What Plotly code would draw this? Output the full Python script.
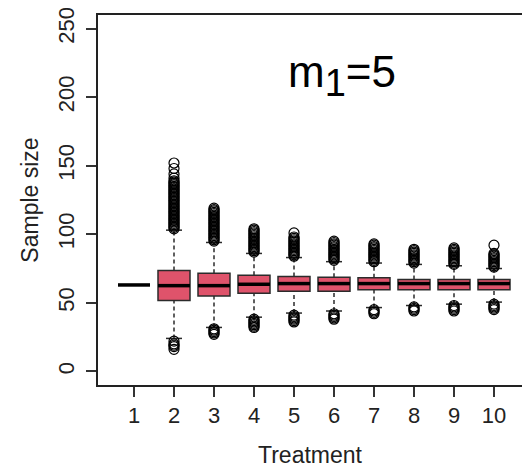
import plotly.graph_objects as go

# ---- data ----
treatments = [1, 2, 3, 4, 5, 6, 7, 8, 9, 10]
tick_labels = ["1", "2", "3", "4", "5", "6", "7", "8", "9", "10"]
q1 = [63, 51.7, 55, 57, 58.5, 58.5, 59.5, 59.5, 59.5, 59.5]
median = [63, 62.5, 62.5, 63.5, 64, 64, 64, 64, 64, 64]
q3 = [63, 73.6, 71.6, 70, 69.2, 68.7, 68.3, 67, 67, 67]
whisker_low = [63, 24, 32, 39.5, 42.5, 44, 46.5, 48, 49, 50.5]
whisker_high = [63, 103, 94, 86, 83, 80, 79, 78, 77, 75]

outliers_high = [
    [],
    [104, 105, 106, 107, 108, 109, 110, 111, 112, 113, 114, 115, 116, 117, 118, 119, 120,
     121, 122, 123, 124, 125, 126, 127, 128, 129, 130, 131, 132, 133, 134, 135, 136, 137,
     138, 139, 141, 144, 148, 152],
    [95, 96, 97, 98, 99, 100, 101, 102, 103, 104, 105, 106, 107, 108, 109, 110, 111, 112,
     113, 114, 115, 116, 117, 118, 119],
    [87, 88, 89, 90, 91, 92, 93, 94, 95, 96, 97, 98, 99, 100, 101, 102, 103, 104],
    [84, 85, 86, 87, 88, 89, 90, 91, 92, 93, 94, 95, 96, 97, 98, 101],
    [81, 82, 83, 84, 85, 86, 87, 88, 89, 90, 91, 92, 93, 94, 95],
    [80, 81, 82, 83, 84, 85, 86, 87, 88, 89, 90, 91, 92, 93],
    [79, 80, 81, 82, 83, 84, 85, 86, 87, 88, 89],
    [78, 79, 80, 81, 82, 83, 84, 85, 86, 87, 88, 89, 90],
    [76, 77, 78, 79, 80, 81, 82, 83, 84, 85, 86, 92],
]
outliers_low = [
    [],
    [16, 18, 19, 20, 22],
    [27, 28, 29, 30, 31],
    [32, 33, 34, 35, 36, 37, 38],
    [36, 37, 38, 39, 40, 41],
    [38, 39, 40, 41, 42],
    [42, 43, 44, 45],
    [44, 45, 46, 47],
    [44, 45, 46, 47, 48],
    [45, 46, 47, 48, 49],
]

BOX_W = 0.8
STAPLE_W = 0.4
FILL = "#DF536B"
EDGE = "#2b2b2b"
FONT = "Liberation Sans, Arial, Helvetica, sans-serif"

fig = go.Figure()

# whiskers (dashed) from box edges to whisker ends
wx, wy = [], []
for t, lo, a, b, hi in zip(treatments, whisker_low, q1, q3, whisker_high):
    if hi > b:
        wx += [t, t, None]
        wy += [b, hi, None]
    if lo < a:
        wx += [t, t, None]
        wy += [lo, a, None]
fig.add_trace(go.Scatter(x=wx, y=wy, mode="lines",
                         line=dict(color=EDGE, width=1.5, dash="4px,3px"),
                         hoverinfo="skip", showlegend=False))

# staples
sx, sy = [], []
for t, lo, hi in zip(treatments, whisker_low, whisker_high):
    if lo == hi:
        continue
    for v in (lo, hi):
        sx += [t - STAPLE_W / 2, t + STAPLE_W / 2, None]
        sy += [v, v, None]
fig.add_trace(go.Scatter(x=sx, y=sy, mode="lines",
                         line=dict(color=EDGE, width=1.5),
                         hoverinfo="skip", showlegend=False))

# boxes
box_idx = [i for i in range(len(treatments)) if q3[i] > q1[i]]
fig.add_trace(go.Box(
    x=[treatments[i] for i in box_idx],
    q1=[q1[i] for i in box_idx],
    median=[median[i] for i in box_idx],
    q3=[q3[i] for i in box_idx],
    lowerfence=[q1[i] for i in box_idx],
    upperfence=[q3[i] for i in box_idx],
    width=BOX_W,
    fillcolor=FILL,
    line=dict(color=EDGE, width=1.5),
    boxpoints=False,
    hoverinfo="skip",
    showlegend=False,
))

# thick median lines
mx, my = [], []
for t, m in zip(treatments, median):
    mx += [t - BOX_W / 2, t + BOX_W / 2, None]
    my += [m, m, None]
fig.add_trace(go.Scatter(x=mx, y=my, mode="lines",
                         line=dict(color="black", width=3.5),
                         hoverinfo="skip", showlegend=False))

# outliers
ox, oy = [], []
for t, hi_list, lo_list in zip(treatments, outliers_high, outliers_low):
    for v in hi_list + lo_list:
        ox.append(t)
        oy.append(v)
fig.add_trace(go.Scatter(x=ox, y=oy, mode="markers",
                         marker=dict(symbol="circle-open", size=10, color="black",
                                     line=dict(width=1.2, color="black")),
                         hoverinfo="skip", showlegend=False))

fig.add_annotation(x=6.2, y=216, xref="x", yref="y",
                   text='m<sub><span style="font-size:38px">1</span></sub>=5',
                   showarrow=False, font=dict(family=FONT, size=44, color="black"))

fig.update_layout(
    width=522, height=468,
    margin=dict(l=98, r=0, t=15, b=83),
    paper_bgcolor="white", plot_bgcolor="white",
    font=dict(family=FONT, size=22, color="#222"),
    showlegend=False,
    xaxis=dict(range=[0.1, 10.7], tickmode="array", tickvals=treatments,
               ticktext=tick_labels, ticks="outside", ticklen=10, tickwidth=1.5,
               tickcolor="#333", showline=True, linecolor="#222", linewidth=1.5,
               mirror=True, showgrid=False, zeroline=False,
               tickfont=dict(family=FONT, size=22, color="#222"),
               title=dict(text="Treatment", standoff=23,
                          font=dict(family=FONT, size=23, color="#222"))),
    yaxis=dict(range=[-10, 260], tickmode="array", tickvals=[0, 50, 100, 150, 200, 250],
               ticktext=["0", "50", "100", "150", "200", "250"],
               tickangle=-90, ticks="outside", ticklen=10, tickwidth=1.5,
               tickcolor="#333", showline=True, linecolor="#222", linewidth=1.5,
               showgrid=False, zeroline=False, ticklabelstandoff=3,
               tickfont=dict(family=FONT, size=22, color="#222"),
               title=dict(text="Sample size", standoff=9,
                          font=dict(family=FONT, size=23, color="#222"))),
)

fig.write_html("out.html")
